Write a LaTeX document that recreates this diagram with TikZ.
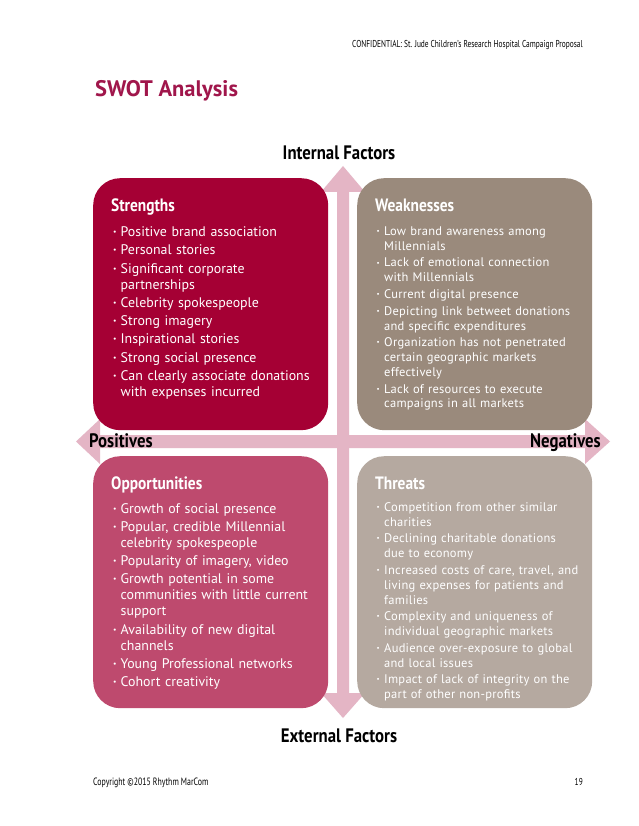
\documentclass[tikz,border=0pt]{standalone}
\usepackage{fontspec}
\setmainfont{PT Sans}
\newfontfamily\condfont[FakeStretch=0.74]{PT Sans}
\newfontfamily\condbfont[FakeStretch=0.86]{PT Sans Bold}
\newfontfamily\lightfont[LetterSpace=2]{PT Sans}
\definecolor{sred}{HTML}{A50034}
\definecolor{sweak}{HTML}{9A8A7C}
\definecolor{sopp}{HTML}{BE4A6E}
\definecolor{sthr}{HTML}{B5A9A0}
\definecolor{sarrow}{HTML}{E4B5C5}
\definecolor{stitle}{HTML}{A0164B}
\newcommand\nl{\hfil\break}
\newcommand\bitem[1]{\par\hangindent=9pt\hangafter=1\makebox[9pt][l]{\hspace{1.5pt}\raisebox{0.3ex}{\scalebox{0.55}{•}}}#1}
\tikzset{
  quad/.style={draw=none, rounded corners=27pt, minimum width=235pt, minimum height=252pt, inner sep=0pt, anchor=north west},
  qhead/.style={anchor=base west, inner sep=0pt, text=white, font=\condbfont\fontsize{17.9}{20}\selectfont},
  listbig/.style={anchor=north west, inner sep=0pt, text width=215pt, align=left, text=white,
    font=\fontsize{13.9}{16}\selectfont,
    execute at begin node={\setlength\parskip{2.25pt}\setlength\parindent{0pt}}},
  listsmall/.style={anchor=north west, inner sep=0pt, text width=220pt, align=left, text=white,
    font=\lightfont\fontsize{12.5}{14.9}\selectfont,
    execute at begin node={\setlength\parskip{1.7pt}\setlength\parindent{0pt}}},
  axislabel/.style={inner sep=0pt, font=\condbfont\fontsize{19.5}{22}\selectfont},
  smalltext/.style={inner sep=0pt, font=\condfont\fontsize{10}{12}\selectfont}
}
\begin{document}
\begin{tikzpicture}[x=1pt,y=-1pt]
\fill[white] (0,0) rectangle (638,826);
\useasboundingbox (0,0) rectangle (638,826);
% header and title
\node[smalltext, anchor=base east] (hdr) at (583,48) {CONFIDENTIAL: St. Jude Children’s Research Hospital Campaign Proposal};
\node[inner sep=0pt, anchor=base west, text=stitle, font=\bfseries\fontsize{22.5}{26}\selectfont] (title) at (95,97) {SWOT Analysis};
% arrows
\fill[sarrow] (337,192) -- (321,192) -- (343,166) -- (365,192) -- (349,192) -- (349,693) -- (365,693) -- (343,718) -- (321,693) -- (337,693) -- cycle;
\fill[sarrow] (100,435) -- (100,419) -- (76,441.5) -- (100,464) -- (100,448) -- (585,448) -- (585,464) -- (610,441.5) -- (585,419) -- (585,435) -- cycle;
% boxes
\node[quad, fill=sred] (S) at (93,178) {};
\node[quad, fill=sweak] (W) at (357,178) {};
\node[quad, fill=sopp] (O) at (93,456) {};
\node[quad, fill=sthr] (T) at (357,456) {};
% axis labels
\node[axislabel, anchor=base] (inf) at (339,160) {Internal Factors};
\node[axislabel, anchor=base] (exf) at (339,742) {External Factors};
\node[axislabel, anchor=base west] (pos) at (89,447) {Positives};
\node[axislabel, anchor=base east] (neg) at (601,447) {Negatives};
% headings
\node[qhead] (Sh) at (111,211.5) {Strengths};
\node[qhead] (Wh) at (375,211.5) {Weaknesses};
\node[qhead] (Oh) at (111,489.5) {Opportunities};
\node[qhead] (Th) at (375,489.5) {Threats};
% lists
\node[listbig] (Sl) at (111.5,218.3) {%
\bitem{Positive brand association}
\bitem{Personal stories}
\bitem{Significant corporate\nl partnerships}
\bitem{Celebrity spokespeople}
\bitem{Strong imagery}
\bitem{Inspirational stories}
\bitem{Strong social presence}
\bitem{Can clearly associate donations\nl with expenses incurred}\par};
\node[listsmall] (Wl) at (375,218.7) {%
\bitem{Low brand awareness among\nl Millennials}
\bitem{Lack of emotional connection\nl with Millennials}
\bitem{Current digital presence}
\bitem{Depicting link betweet donations\nl and specific expenditures}
\bitem{Organization has not penetrated\nl certain geographic markets\nl effectively}
\bitem{Lack of resources to execute\nl campaigns in all markets}\par};
\node[listbig] (Ol) at (111.5,494.7) {%
\bitem{Growth of social presence}
\bitem{Popular, credible Millennial\nl celebrity spokespeople}
\bitem{Popularity of imagery, video}
\bitem{Growth potential in some\nl communities with little current\nl support}
\bitem{Availability of new digital\nl channels}
\bitem{Young Professional networks}
\bitem{Cohort creativity}\par};
\node[listsmall] (Tl) at (375,494.5) {%
\bitem{Competition from other similar\nl charities}
\bitem{Declining charitable donations\nl due to economy}
\bitem{Increased costs of care, travel, and\nl living expenses for patients and\nl families}
\bitem{Complexity and uniqueness of\nl individual geographic markets}
\bitem{Audience over-exposure to global\nl and local issues}
\bitem{Impact of lack of integrity on the\nl part of other non-profits}\par};
% footer
\node[smalltext, anchor=base west, font=\condfont\fontsize{10.6}{12}\selectfont] (copy) at (93,785) {Copyright ©2015 Rhythm MarCom};
\node[smalltext, anchor=base east] (page) at (583,785) {19};
\end{tikzpicture}
\end{document}
